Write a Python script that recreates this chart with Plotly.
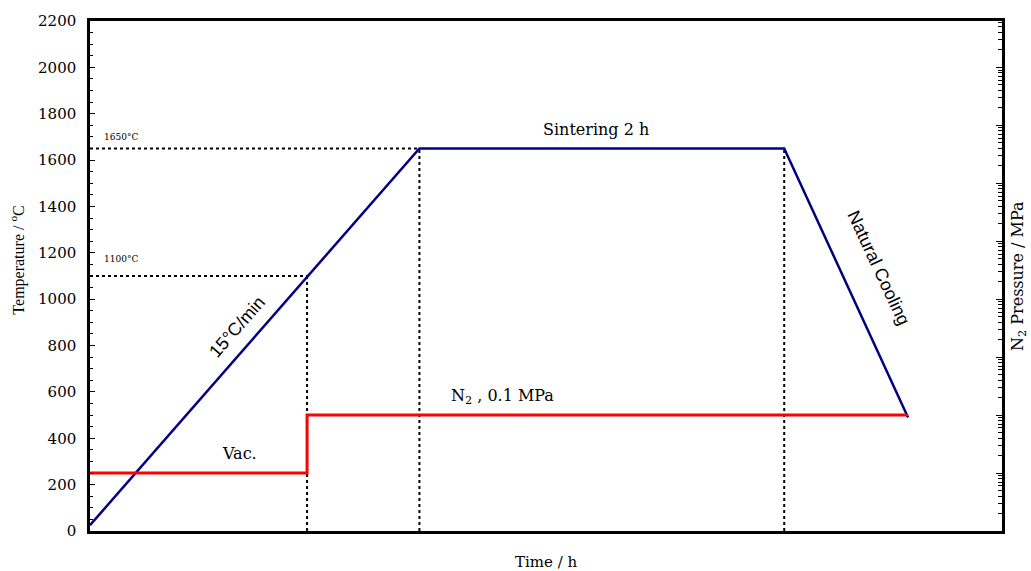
import plotly.graph_objects as go

# --- data ---
time_pts = [0, 1.806, 3.806, 4.485]          # h
temp_pts = [25, 1650, 1650, 490]             # degC
pressure_time = [0, 1.19, 4.485]             # h
pressure_vals = [0.01, 0.1, 0.1]             # MPa (vac. -> N2 0.1 MPa)
t_1100 = 1.19
temp_marks = [1650, 1100]
y_ticks = list(range(0, 2201, 200))

SERIF = "DejaVu Serif"
TIMES = "Liberation Serif"
SANS = "Liberation Sans"

fig = go.Figure()

# dotted guide lines
dot = dict(color="black", width=2, dash="dot")
fig.add_trace(go.Scatter(x=[0, time_pts[1]], y=[temp_marks[0]] * 2, mode="lines", line=dot, hoverinfo="skip"))
fig.add_trace(go.Scatter(x=[0, t_1100], y=[temp_marks[1]] * 2, mode="lines", line=dot, hoverinfo="skip"))
fig.add_trace(go.Scatter(x=[t_1100, t_1100], y=[0, temp_marks[1]], mode="lines", line=dot, hoverinfo="skip"))
fig.add_trace(go.Scatter(x=[time_pts[1]] * 2, y=[0, temp_marks[0]], mode="lines", line=dot, hoverinfo="skip"))
fig.add_trace(go.Scatter(x=[time_pts[2]] * 2, y=[0, temp_marks[0]], mode="lines", line=dot, hoverinfo="skip"))

# temperature profile
fig.add_trace(go.Scatter(x=time_pts, y=temp_pts, mode="lines",
                         line=dict(color="#000080", width=2.5), name="Temperature"))
# pressure profile
fig.add_trace(go.Scatter(x=pressure_time, y=pressure_vals, mode="lines", yaxis="y2",
                         line=dict(color="#ff0000", width=3, shape="hv"), name="Pressure"))

ann = [
    dict(x=0.17, y=1700, text="1650°C", font=dict(family=SERIF, size=9)),
    dict(x=0.17, y=1175, text="1100°C", font=dict(family=SERIF, size=9)),
    dict(x=2.774, y=1734, text="Sintering 2 h", font=dict(family=SERIF, size=16)),
    dict(x=0.822, y=333, text="Vac.", font=dict(family=SERIF, size=16)),
    dict(x=2.26, y=581, text="N<sub>2</sub> , 0.1 MPa", font=dict(family=SERIF, size=16)),
    dict(x=0.806, y=880, text="15°C/min", textangle=-49, font=dict(family=SANS, size=18)),
    dict(x=4.325, y=1136, text="Natural Cooling", textangle=65, font=dict(family=SANS, size=18)),
]
for a in ann:
    a.update(xref="x", yref="y", showarrow=False)

# axis titles placed as paper-referenced annotations
ann += [
    dict(xref="paper", yref="paper", x=-0.079, y=0.532, xanchor="center", yanchor="middle",
         text="Temperature / <sup>o</sup>C", textangle=-90, showarrow=False,
         font=dict(family=TIMES, size=16)),
    dict(xref="paper", yref="paper", x=0.5, y=-0.060, xanchor="center", yanchor="middle",
         text="Time / h", showarrow=False, font=dict(family=SERIF, size=15)),
    dict(xref="paper", yref="paper", x=1.0175, y=0.5, xanchor="center", yanchor="middle",
         text="N<sub>2</sub> Pressure / MPa", textangle=-90, showarrow=False,
         font=dict(family=SERIF, size=16)),
]

fig.update_layout(
    width=1031, height=571,
    margin=dict(l=90, r=29, t=16, b=40),
    plot_bgcolor="white", paper_bgcolor="white",
    showlegend=False,
    annotations=ann,
    font=dict(family=SERIF, color="black"),
    xaxis=dict(range=[0, 5], showgrid=False, zeroline=False, showticklabels=False, ticks="",
               showline=True, linecolor="black", linewidth=2.5, mirror=True),
    yaxis=dict(range=[0, 2200], tickvals=y_ticks, showgrid=False, zeroline=False,
               ticks="inside", ticklen=5, tickwidth=1, tickcolor="black",
               minor=dict(ticks="inside", ticklen=3, dtick=50, tickcolor="black"),
               showline=True, linecolor="black", linewidth=2.5,
               ticklabelstandoff=8,
               tickfont=dict(family=SERIF, size=15)),
    yaxis2=dict(type="log", range=[-3, 5.8], overlaying="y", side="right", showgrid=False, zeroline=False,
                showticklabels=False, ticks="inside", ticklen=6, tickwidth=1, tickcolor="black", dtick=1,
                minor=dict(ticks="inside", ticklen=4, dtick="D1", tickcolor="black"),
                showline=True, linecolor="black", linewidth=2.5),
)

fig.write_html("out.html")
